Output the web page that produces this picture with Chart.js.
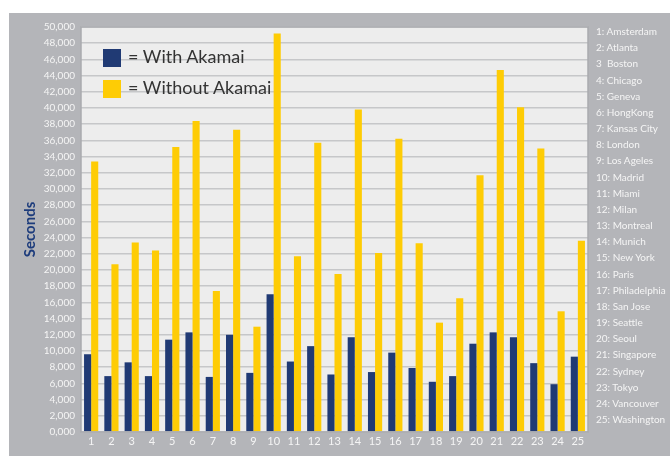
<!DOCTYPE html>
<html>
<head>
<meta charset="utf-8">
<script src="https://cdn.jsdelivr.net/npm/chart.js@4"></script>
<style>
    body { margin: 0; background: #fff; }
    #wrap { position: relative; width: 670px; height: 456px; overflow: hidden; }
    #chart { position: absolute; left: 0; top: 0; }
    .legend { position: absolute; left: 103px; font-family: 'Lato', sans-serif; font-size: 18px; color: #333; }
    .legend span { display: inline-block; width: 18px; height: 18px; vertical-align: middle; margin-right: 7px; }
    #cities { position: absolute; left: 596px; top: 23px; font-family: 'Lato', sans-serif; font-size: 10px; color: #f5f5f5; line-height: 16.17px; white-space: pre; }
</style>
</head>
<body>
<div id="wrap">
    <canvas id="chart" width="670" height="456"></canvas>
    <div class="legend" style="top:45px"><span style="background:#203a74"></span>= With Akamai</div>
    <div class="legend" style="top:76px"><span style="background:#fecc05"></span>= Without Akamai</div>
    <div id="cities"></div>
</div>
<script>
const categories = ['1','2','3','4','5','6','7','8','9','10','11','12','13','14','15','16','17','18','19','20','21','22','23','24','25'];
const cities = ['1: Amsterdam','2: Atlanta','3  Boston','4: Chicago','5: Geneva','6: HongKong','7: Kansas City','8: London','9: Los Ageles','10: Madrid','11: Miami','12: Milan','13: Montreal','14: Munich','15: New York','16: Paris','17: Philadelphia','18: San Jose','19: Seattle','20: Seoul','21: Singapore','22: Sydney','23: Tokyo','24: Vancouver','25: Washington'];
const withAkamai = [9600, 6900, 8600, 6900, 11400, 12300, 6800, 12000, 7300, 17000, 8700, 10600, 7100, 11700, 7400, 9800, 7900, 6200, 6900, 10900, 12300, 11700, 8500, 5900, 9300];
const withoutAkamai = [33400, 20700, 23400, 22400, 35200, 38400, 17400, 37300, 13000, 49200, 21700, 35700, 19500, 39800, 22100, 36200, 23300, 13500, 16500, 31700, 44700, 40100, 35000, 14900, 23600];

document.getElementById('cities').textContent = cities.join('\n');

// backgrounds and plot frame
const frame = {
    id: 'frame',
    beforeDraw(chart) {
        const c = chart.ctx, a = chart.chartArea;
        c.save();
        c.fillStyle = '#fff';
        c.fillRect(0, 0, chart.width, chart.height);
        c.fillStyle = '#b4b5b9';
        c.fillRect(9, 13, chart.width - 9, chart.height - 13);
        c.fillStyle = '#ededed';
        c.fillRect(a.left, a.top, a.right - a.left, a.bottom - a.top);
        c.restore();
    },
    afterDraw(chart) {
        const c = chart.ctx, a = chart.chartArea;
        c.save();
        c.strokeStyle = '#a9aaae';
        c.lineWidth = 1.5;
        c.strokeRect(a.left, a.top, a.right - a.left, a.bottom - a.top);
        c.restore();
    }
};

new Chart(document.getElementById('chart'), {
    type: 'bar',
    data: {
        labels: categories,
        datasets: [
            { label: 'With Akamai', data: withAkamai, backgroundColor: '#203a74' },
            { label: 'Without Akamai', data: withoutAkamai, backgroundColor: '#fecc05' }
        ]
    },
    options: {
        responsive: false,
        animation: false,
        categoryPercentage: 0.7,
        barPercentage: 1.0,
        layout: { padding: { left: 0, top: 27, right: 82, bottom: 0 } },
        plugins: { legend: { display: false }, tooltip: { enabled: false } },
        scales: {
            x: {
                grid: { display: false, drawTicks: false },
                border: { display: false },
                ticks: { color: '#f5f5f5', font: { family: 'Lato', size: 11 }, padding: 3, maxRotation: 0 },
                afterFit(s) { s.height = 24; }
            },
            y: {
                min: 0,
                max: 50000,
                grid: { color: '#c6c7c9', lineWidth: 1.5, drawTicks: false },
                border: { display: false },
                ticks: {
                    stepSize: 2000,
                    color: '#f5f5f5',
                    font: { family: 'Lato', size: 10 },
                    padding: 6,
                    callback: v => (v / 1000) + ',000'
                },
                title: {
                    display: true,
                    text: 'Seconds',
                    color: '#1d3c7c',
                    font: { family: 'Lato', size: 15, weight: 'bold' },
                    padding: { top: 21, bottom: 0 }
                },
                afterFit(s) { s.width = 81; }
            }
        }
    },
    plugins: [frame]
});
</script>
</body>
</html>
